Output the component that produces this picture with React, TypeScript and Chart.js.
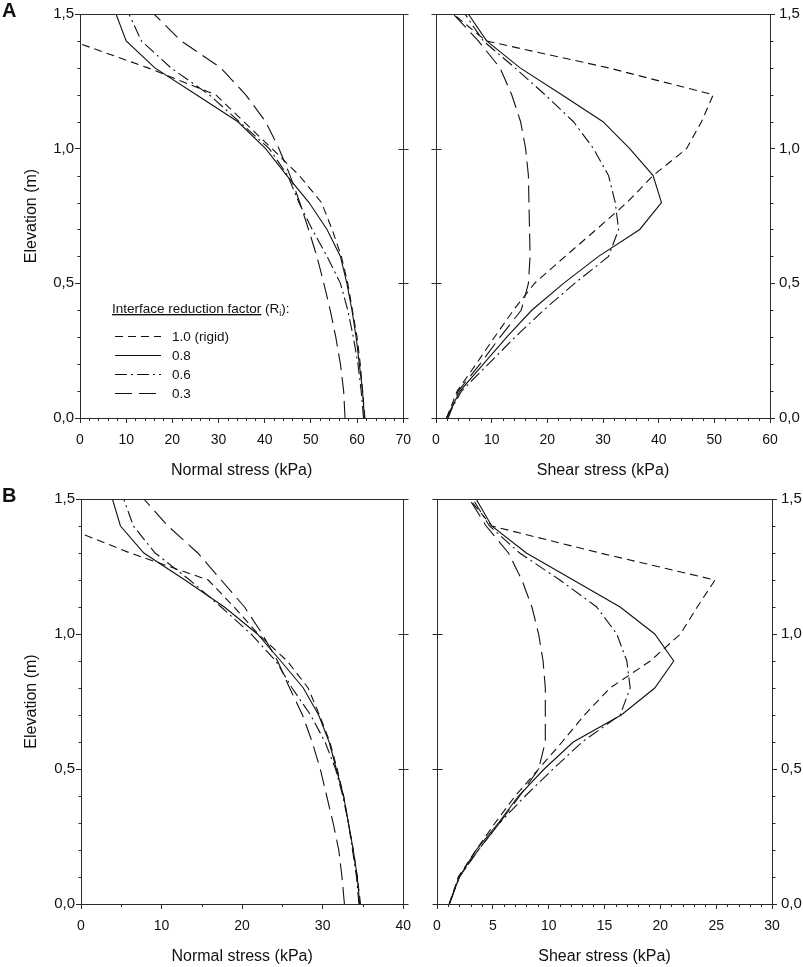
import { useEffect, useRef } from "react";
import { Chart, registerables } from "chart.js";

Chart.register(...registerables);

// Elevation of the computed points (m)
const elevation = [0.0, 0.1, 0.2, 0.3, 0.4, 0.5, 0.6, 0.7, 0.8, 0.9, 1.0, 1.1, 1.2, 1.3, 1.4, 1.5];

// Panel A - normal stress (kPa)
const normalA_rigid = [61.7, 61.2, 60.7, 60.0, 59.0, 58.0, 56.6, 54.6, 52.3, 47.5, 41.6, 35.5, 29.4, 14.7, -1.7, null];
const normalA_r08 = [61.6, 61.2, 60.5, 59.8, 58.9, 57.8, 56.4, 53.5, 49.6, 44.8, 40.2, 34.2, 25.2, 16.2, 10.0, 7.8];
const normalA_r06 = [61.4, 60.9, 60.2, 59.2, 58.0, 56.4, 53.5, 50.3, 47.4, 45.0, 41.0, 34.5, 28.0, 19.7, 13.3, 10.6];
const normalA_r03 = [57.4, 57.1, 56.4, 55.4, 54.2, 52.8, 51.3, 49.5, 47.6, 45.5, 43.1, 40.2, 35.9, 30.5, 21.9, 16.0];

// Panel A - shear stress (kPa)
const shearA_rigid = [1.9, 3.8, 7.2, 10.5, 13.9, 17.7, 23.2, 28.8, 34.3, 39.0, 45.0, 47.7, 49.8, 31.0, 9.0, 3.1];
const shearA_r08 = [1.9, 4.3, 8.5, 12.7, 17.2, 22.9, 29.2, 36.6, 40.5, 39.0, 34.8, 30.0, 22.6, 15.1, 9.1, 5.8];
const shearA_r06 = [1.9, 4.6, 9.4, 14.2, 19.3, 24.9, 31.0, 32.8, 32.2, 31.0, 28.3, 24.7, 19.6, 14.2, 8.5, 5.2];
const shearA_r03 = [2.2, 4.0, 7.9, 11.5, 15.3, 16.6, 16.9, 16.8, 16.7, 16.6, 16.1, 15.2, 13.6, 11.5, 7.6, 3.1];

// Panel B - normal stress (kPa)
const normalB_rigid = [34.7, 34.3, 33.8, 33.2, 32.6, 31.8, 30.9, 29.6, 28.2, 25.6, 22.0, 19.0, 15.8, 6.1, -2.3, null];
const normalB_r08 = [34.6, 34.3, 33.8, 33.2, 32.6, 31.7, 30.8, 29.5, 27.6, 24.8, 21.9, 17.8, 12.9, 7.8, 4.9, 3.9];
const normalB_r06 = [34.5, 34.2, 33.7, 33.2, 32.5, 31.6, 30.3, 28.5, 26.2, 24.2, 21.1, 17.4, 13.5, 9.2, 6.5, 5.3];
const normalB_r03 = [32.7, 32.4, 32.0, 31.3, 30.5, 29.7, 28.7, 27.5, 25.9, 24.4, 22.5, 20.3, 17.4, 14.5, 10.8, 7.8];

// Panel B - shear stress (kPa)
const shearB_rigid = [1.1, 1.9, 3.5, 5.2, 7.0, 9.1, 11.2, 13.2, 15.5, 19.1, 21.8, 23.3, 24.9, 14.6, 4.9, 2.9];
const shearB_r08 = [1.1, 2.0, 3.5, 5.5, 7.3, 9.6, 12.2, 16.5, 19.5, 21.2, 19.5, 16.4, 12.2, 8.0, 4.9, 3.5];
const shearB_r06 = [1.1, 2.0, 3.7, 5.6, 7.9, 10.4, 13.0, 16.4, 17.3, 17.0, 16.1, 14.3, 11.0, 7.4, 4.7, 3.2];
const shearB_r03 = [1.1, 2.0, 3.7, 5.6, 7.4, 9.1, 9.7, 9.7, 9.7, 9.5, 9.1, 8.5, 7.6, 6.4, 4.4, 2.9];

// Interface reduction factor series
const seriesLabels = ["1.0 (rigid)", "0.8", "0.6", "0.3"];
const seriesDash = [[8, 5], [], [12, 4, 2, 4], [17, 7]];

const FONT = "'Liberation Sans', Arial, Helvetica, sans-serif";
const lineColor = "#111111";
const axisColor = "#2b2b2b";
const textColor = "#111111";

// top frame, opposite side with crossing ticks, and minor ticks
const frameTicks = {
  id: "frameTicks",
  afterDraw(chart: any, _args: any, opts: any) {
    const { ctx, chartArea } = chart;
    const { left, right, top, bottom } = chartArea;
    const xs = chart.scales.x;
    const ys = chart.scales.y;
    const a = (p: number) => Math.round(p) + 0.5;
    const isMajor = (v: number, step: number) => Math.abs(v / step - Math.round(v / step)) < 1e-6;
    const inner = opts.yPosition === "left" ? right : left;
    const outer = opts.yPosition === "left" ? left : right;
    const dir = opts.yPosition === "left" ? -1 : 1;

    ctx.save();
    ctx.strokeStyle = axisColor;
    ctx.lineWidth = 1;
    ctx.beginPath();
    ctx.moveTo(left, a(top));
    ctx.lineTo(right, a(top));
    ctx.moveTo(a(inner), top);
    ctx.lineTo(a(inner), bottom);
    ys.ticks.forEach((t: any) => {
      const py = a(ys.getPixelForValue(t.value));
      ctx.moveTo(a(inner) - 5, py);
      ctx.lineTo(a(inner) + 5, py);
    });
    const nx = Math.round((xs.max - xs.min) / opts.xMinor);
    for (let i = 1; i < nx; i++) {
      const v = xs.min + i * opts.xMinor;
      if (isMajor(v, opts.xMajor)) continue;
      const px = a(xs.getPixelForValue(v));
      ctx.moveTo(px, bottom);
      ctx.lineTo(px, bottom + 3);
    }
    const ny = Math.round((ys.max - ys.min) / 0.1);
    for (let i = 1; i < ny; i++) {
      const v = ys.min + i * 0.1;
      if (isMajor(v, 0.5)) continue;
      const py = a(ys.getPixelForValue(v));
      ctx.moveTo(a(outer), py);
      ctx.lineTo(a(outer) + dir * 3, py);
    }
    ctx.stroke();
    ctx.restore();
  },
};

type PanelProps = {
  series: (number | null)[][];
  xMax: number;
  xStep: number;
  xMinor: number;
  xTitle: string;
  yPosition: "left" | "right";
  box: { left: number; top: number; width: number; height: number };
  plot: { left: number; top: number; right: number; bottom: number };
  titlePad: number;
};

function StressPanel({ series, xMax, xStep, xMinor, xTitle, yPosition, box, plot, titlePad }: PanelProps) {
  const canvasRef = useRef<HTMLCanvasElement>(null);

  useEffect(() => {
    const canvas = canvasRef.current;
    if (!canvas) return;
    const yWidth = yPosition === "left" ? plot.left : box.width - plot.right;
    const padding =
      yPosition === "left"
        ? { left: 0, right: box.width - plot.right, top: plot.top, bottom: 0 }
        : { left: plot.left, right: 0, top: plot.top, bottom: 0 };

    const chart = new Chart(canvas, {
      type: "scatter",
      data: {
        datasets: series.map((vals, i) => ({
          label: seriesLabels[i],
          data: vals.flatMap((v, k) => (v === null ? [] : [{ x: v, y: elevation[k] }])),
          showLine: true,
          borderColor: lineColor,
          borderWidth: 1.1,
          borderDash: seriesDash[i],
          pointRadius: 0,
          pointHoverRadius: 0,
          fill: false,
          tension: 0,
        })),
      },
      options: {
        animation: false,
        responsive: false,
        events: [],
        layout: { padding },
        plugins: {
          legend: { display: false },
          tooltip: { enabled: false },
          frameTicks: { yPosition, xMinor, xMajor: xStep },
        } as any,
        scales: {
          x: {
            type: "linear",
            position: "bottom",
            min: 0,
            max: xMax,
            afterFit: (s: any) => {
              s.height = box.height - plot.bottom;
            },
            border: { display: true, color: axisColor, width: 1 },
            grid: { drawOnChartArea: false, drawTicks: true, tickLength: 5, tickColor: axisColor },
            ticks: {
              stepSize: xStep,
              autoSkip: false,
              maxRotation: 0,
              padding: 9,
              color: textColor,
              font: { family: FONT, size: 14 },
            },
            title: {
              display: true,
              text: xTitle,
              color: textColor,
              font: { family: FONT, size: 16 },
              padding: { top: 0, bottom: titlePad },
            },
          },
          y: {
            type: "linear",
            position: yPosition,
            min: 0,
            max: 1.5,
            afterFit: (s: any) => {
              s.width = yWidth;
            },
            border: { display: true, color: axisColor, width: 1 },
            grid: { drawOnChartArea: false, drawTicks: true, tickLength: 5, tickColor: axisColor },
            ticks: {
              stepSize: 0.5,
              autoSkip: false,
              padding: yPosition === "left" ? 1 : 4,
              color: textColor,
              font: { family: FONT, size: 15 },
              callback: (v: any) => Number(v).toFixed(1).replace(".", ","),
            },
            title: {
              display: yPosition === "left",
              text: "Elevation (m)",
              color: textColor,
              font: { family: FONT, size: 16 },
              padding: { top: 22, bottom: 0 },
            },
          },
        },
      },
      plugins: [frameTicks as any],
    });

    return () => {
      chart.destroy();
    };
  }, []);

  return (
    <canvas
      ref={canvasRef}
      width={box.width}
      height={box.height}
      style={{ position: "absolute", left: box.left, top: box.top, width: box.width, height: box.height }}
    />
  );
}

export default function App() {
  const legendRows = [336, 355, 374, 393];

  return (
    <div style={{ position: "absolute", left: 0, top: 0, width: 803, height: 967, background: "#fff", overflow: "hidden" }}>
      <StressPanel
        series={[normalA_rigid, normalA_r08, normalA_r06, normalA_r03]}
        xMax={70}
        xStep={10}
        xMinor={2}
        xTitle="Normal stress (kPa)"
        yPosition="left"
        box={{ left: 0, top: 0, width: 420, height: 485 }}
        plot={{ left: 80, top: 14, right: 405, bottom: 418 }}
        titlePad={4.4}
      />
      <StressPanel
        series={[shearA_rigid, shearA_r08, shearA_r06, shearA_r03]}
        xMax={60}
        xStep={10}
        xMinor={2}
        xTitle="Shear stress (kPa)"
        yPosition="right"
        box={{ left: 420, top: 0, width: 383, height: 485 }}
        plot={{ left: 16, top: 14, right: 350, bottom: 418 }}
        titlePad={4.4}
      />
      <StressPanel
        series={[normalB_rigid, normalB_r08, normalB_r06, normalB_r03]}
        xMax={40}
        xStep={10}
        xMinor={5}
        xTitle="Normal stress (kPa)"
        yPosition="left"
        box={{ left: 0, top: 485, width: 420, height: 482 }}
        plot={{ left: 81, top: 14, right: 407, bottom: 419 }}
        titlePad={0.4}
      />
      <StressPanel
        series={[shearB_rigid, shearB_r08, shearB_r06, shearB_r03]}
        xMax={30}
        xStep={5}
        xMinor={1}
        xTitle="Shear stress (kPa)"
        yPosition="right"
        box={{ left: 420, top: 485, width: 383, height: 482 }}
        plot={{ left: 17, top: 14, right: 352, bottom: 419 }}
        titlePad={0.4}
      />

      {/* panel letters and legend */}
      <svg
        width={803}
        height={967}
        style={{ position: "absolute", left: 0, top: 0, pointerEvents: "none" }}
        fontFamily={FONT}
        fill={textColor}
      >
        <text x={2} y={16.5} fontSize={20} fontWeight="bold">A</text>
        <text x={2} y={502} fontSize={20} fontWeight="bold">B</text>

        <text x={112} y={313} fontSize={13.5}>
          <tspan style={{ textDecoration: "underline" }}>Interface reduction factor</tspan>
          <tspan> (R</tspan>
          <tspan fontSize={9} dy={3}>i</tspan>
          <tspan dy={-3}>):</tspan>
        </text>
        {seriesLabels.map((label, i) => (
          <g key={label}>
            <line
              x1={115}
              x2={161}
              y1={legendRows[i] + 0.5}
              y2={legendRows[i] + 0.5}
              stroke={lineColor}
              strokeWidth={1.1}
              strokeDasharray={seriesDash[i].length ? seriesDash[i].join(" ") : undefined}
            />
            <text x={172} y={legendRows[i] + 5} fontSize={13.5}>
              {label}
            </text>
          </g>
        ))}
      </svg>
    </div>
  );
}
